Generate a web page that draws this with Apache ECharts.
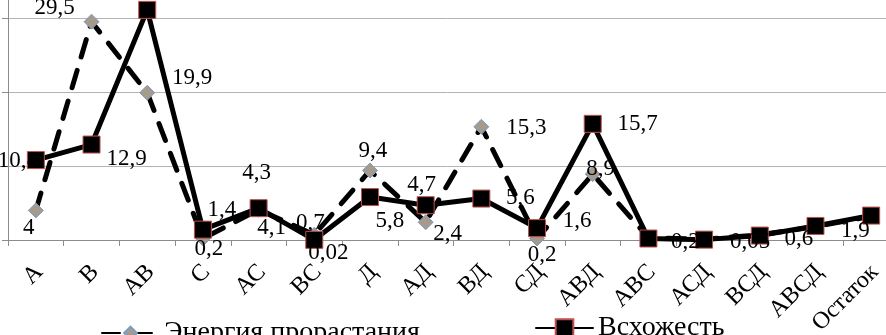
<!DOCTYPE html>
<html><head><meta charset="utf-8">
<script src="https://cdn.jsdelivr.net/npm/echarts@6/dist/echarts.min.js"></script>
<style>html,body{margin:0;padding:0;background:#fff}#c{width:886px;height:335px}</style>
</head><body><div id="c"></div>
<script>
const categories = ['А','В','АВ','С','АС','ВС','Д','АД','ВД','СД','АВД','АВС','АСД','ВСД','АВСД','Остаток'];
const energyName = 'Энергия прорастания';
const germName = 'Всхожесть';
const energyValues = [4, 29.5, 19.9, 0.2, 4.1, 0.7, 9.4, 2.4, 15.3, 0.2, 8.9, 0.3, 0.1, 0.7, 1.8, 3.2];
const germValues   = [10.8, 12.9, 31.1, 1.4, 4.3, 0.02, 5.8, 4.7, 5.6, 1.6, 15.7, 0.2, 0.05, 0.6, 1.9, 3.3];
const energyLabelShown = [true,true,true,true,true,true,true,true,true,true,true,false,false,false,false,false];
const yTicks = [0, 10, 20, 30, 40];

// label offsets (style only)
const energyLabelOffsets = [[-7,18],[-37,-14],[45,-15],[6,10],[13,18],[-4,-12],[3,-19],[22,12],[45,1],[5,16],[8,-5],[0,0],[0,0],[0,0],[0,0],[0,0]];
const germLabelOffsets = [[-18,1],[35,14],[0,-22],[19,-20],[-2,-35],[14,13],[20,24],[-4,-20],[39,-1],[40,-7],[45,0],[37,3],[46,2],[39,3],[40,5],[40,5]];

const FONT = "'Liberation Serif', 'Times New Roman', serif";
const fmt = v => String(v).replace('.', ',');

function mkData(vals, offs, shown) {
  return vals.map((v, i) => ({
    value: v,
    label: {
      show: shown ? shown[i] : true,
      position: 'inside',
      offset: offs[i],
      formatter: fmt(v)
    }
  }));
}

const chart = echarts.init(document.getElementById('c'), null, {renderer: 'canvas'});
chart.setOption({
  animation: false,
  backgroundColor: '#fff',
  textStyle: {fontFamily: FONT},
  grid: {left: 8, right: -13, top: -56, bottom: 95, containLabel: false, outerBoundsMode: 'none'},
  legend: [
    {
      data: [energyName], left: 96, top: 314, itemWidth: 57, itemHeight: 16, itemGap: 5,
      textStyle: {fontFamily: FONT, fontSize: 28, color: '#000'}
    },
    {
      data: [germName], left: 530, top: 309, itemWidth: 57, itemHeight: 22, itemGap: 5,
      textStyle: {fontFamily: FONT, fontSize: 28, color: '#000'}
    }
  ],
  xAxis: {
    type: 'category', data: categories, boundaryGap: true,
    axisLine: {lineStyle: {color: '#8c8c8c', width: 1}},
    axisTick: {show: true, length: 6, lineStyle: {color: '#8c8c8c'}},
    axisLabel: {
      rotate: 45, margin: 25, verticalAlign: 'middle', interval: 0,
      fontFamily: FONT, fontSize: 24, color: '#000',
      formatter: v => '{a|' + v + '}',
      rich: {a: {fontFamily: FONT, fontSize: 24, color: '#000', padding: [10, 0, 0, 0]}}
    }
  },
  yAxis: {
    type: 'value', min: yTicks[0], max: yTicks[yTicks.length - 1], interval: 10,
    axisLine: {show: true, lineStyle: {color: '#8c8c8c'}},
    axisTick: {show: true, length: 6, lineStyle: {color: '#8c8c8c'}},
    axisLabel: {show: false},
    splitLine: {lineStyle: {color: '#b4b4b4', width: 1}}
  },
  series: [
    {
      name: energyName, type: 'line', data: mkData(energyValues, energyLabelOffsets, energyLabelShown),
      symbol: 'diamond', symbolSize: 15,
      lineStyle: {color: '#000', width: 5, type: [18, 14], cap: 'round'},
      itemStyle: {color: '#a59a8c', borderColor: '#7a9cc6', borderWidth: 1},
      label: {fontFamily: FONT, fontSize: 23, color: '#000'},
      z: 2
    },
    {
      name: germName, type: 'line', data: mkData(germValues, germLabelOffsets, null),
      symbol: 'rect', symbolSize: 17,
      lineStyle: {color: '#000', width: 5, cap: 'round', join: 'round'},
      itemStyle: {color: '#000', borderColor: '#c0504d', borderWidth: 1},
      label: {fontFamily: FONT, fontSize: 23, color: '#000'},
      z: 3
    }
  ]
});
</script></body></html>
